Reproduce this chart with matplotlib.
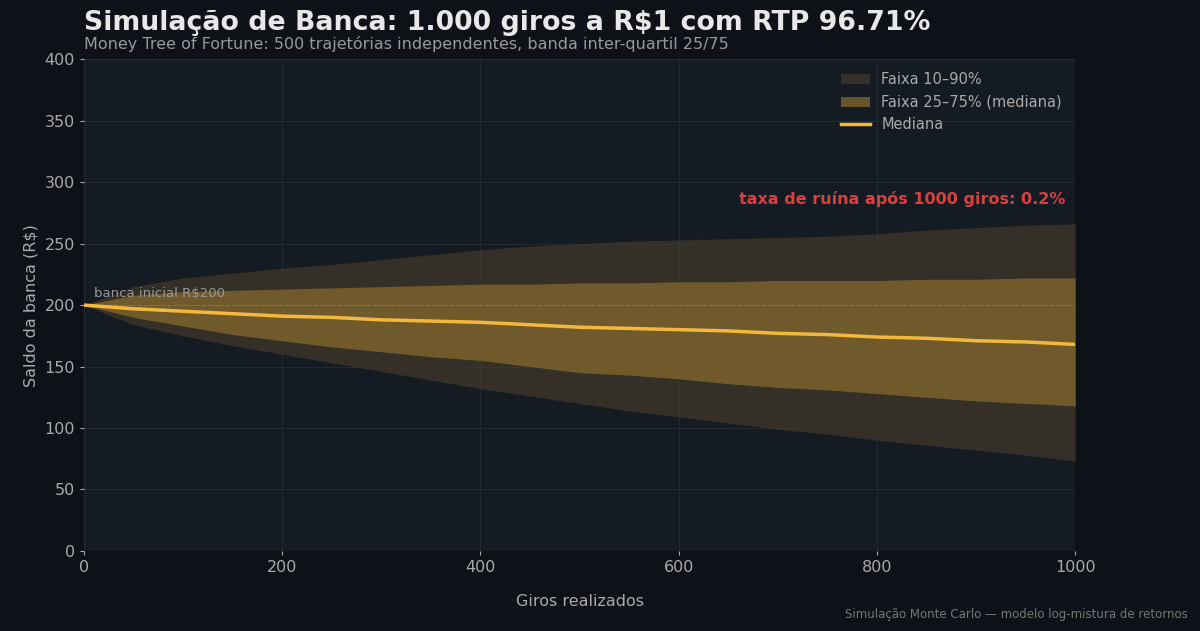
import matplotlib
matplotlib.use("Agg")
import matplotlib.pyplot as plt

giros = [0,50,100,150,200,250,300,350,400,450,500,550,600,650,700,750,800,850,900,950,1000]
mediana = [200,197,195,193,191,190,188,187,186,184,182,181,180,179,177,176,174,173,171,170,168]
p75 = [200,208,211,212,213,214,215,216,217,217,218,218,219,219,220,220,220,221,221,222,222]
p25 = [200,190,183,176,171,166,162,158,155,150,145,143,140,136,133,131,128,125,122,120,118]
p90 = [200,215,222,226,230,233,237,241,245,248,250,252,253,254,255,256,258,261,263,265,266]
p10 = [200,184,175,167,160,153,146,139,132,126,120,114,109,104,99,95,90,86,82,78,73]

fig = plt.figure(figsize=(12,6.31), dpi=100, facecolor="#0e1117")
ax = fig.add_axes([0.07,0.127,0.826,0.779], facecolor="#151b23")
ax.set_axisbelow(True)
gold = "#f5b83d"
ax.fill_between(giros, p10, p90, color="#4a3f2a", alpha=0.6, lw=0, label="Faixa 10–90%", zorder=2)
ax.fill_between(giros, p25, p75, color="#8a6d2e", alpha=0.7, lw=0, label="Faixa 25–75% (mediana)", zorder=2)
ax.plot(giros, mediana, color=gold, lw=2.5, label="Mediana", zorder=4)
ax.axhline(200, color="#888888", ls="--", lw=0.8, alpha=0.6, zorder=3)
ax.text(10, 204, "banca inicial R$200", color="#999999", fontsize=9.5, va="bottom")
ax.text(990, 282, "taxa de ruína após 1000 giros: 0.2%", color="#d9413e", fontsize=11.5,
        fontweight="bold", ha="right")
ax.set_xlim(0,1000); ax.set_ylim(0,400)
ax.set_xticks(range(0,1001,200)); ax.set_yticks(range(0,401,50))
ax.grid(color="#252c36", lw=0.6, zorder=0)
for s in ax.spines.values(): s.set_visible(False)
ax.tick_params(colors="#aaaaaa", labelsize=11.5, length=3)
ax.set_xlabel("Giros realizados", color="#aaaaaa", fontsize=11.5, labelpad=14)
ax.set_ylabel("Saldo da banca (R$)", color="#aaaaaa", fontsize=11.5)
leg = ax.legend(loc="upper right", frameon=False, fontsize=10.5)
for t in leg.get_texts(): t.set_color("#aaaaaa")
fig.text(0.07, 0.952, "Simulação de Banca: 1.000 giros a R$1 com RTP 96.71%", color="#e8e8e8",
         fontsize=19.3, fontweight="bold")
fig.text(0.07, 0.922, "Money Tree of Fortune: 500 trajetórias independentes, banda inter-quartil 25/75",
         color="#999999", fontsize=11.5)
fig.text(0.99, 0.02, "Simulação Monte Carlo — modelo log-mistura de retornos", color="#777777",
         fontsize=8.5, ha="right")
fig.savefig("out.png", dpi=100, facecolor=fig.get_facecolor())
